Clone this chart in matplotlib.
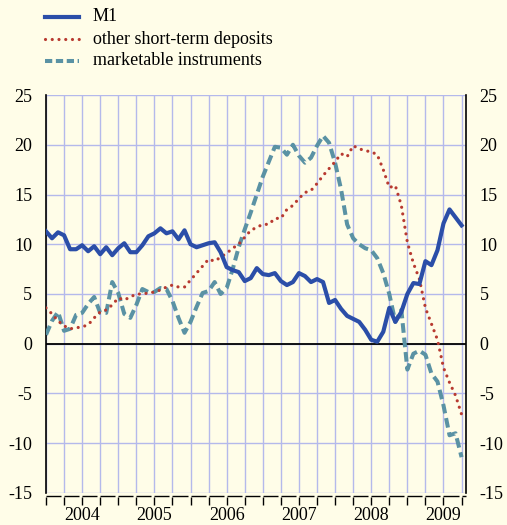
import numpy as np
import matplotlib
matplotlib.use("Agg")
import matplotlib.pyplot as plt
from matplotlib.lines import Line2D

plt.rcParams['font.family'] = ['Liberation Serif', 'DejaVu Serif']
plt.rcParams['axes.unicode_minus'] = False

# monthly data, Jan 2004 - Oct 2009 (annual % changes)
m1 = [11.3, 10.6, 11.2, 10.9, 9.5, 9.5, 9.9, 9.3, 9.8, 9.0,
      9.7, 8.9, 9.6, 10.1, 9.2, 9.2, 9.9, 10.8, 11.1, 11.6,
      11.1, 11.3, 10.5, 11.4, 10.0, 9.7, 9.9, 10.1, 10.2, 9.2,
      7.7, 7.4, 7.2, 6.3, 6.6, 7.6, 7.0, 6.9, 7.1, 6.3,
      5.9, 6.2, 7.1, 6.8, 6.2, 6.5, 6.2, 4.1, 4.4, 3.5,
      2.8, 2.5, 2.2, 1.4, 0.4, 0.2, 1.2, 3.6, 2.2, 3.2,
      5.0, 6.1, 6.0, 8.3, 7.9, 9.4, 12.1, 13.5, 12.7, 11.9]

other_st_dep = [3.6, 3.0, 2.3, 1.8, 1.5, 1.6, 1.7, 1.9, 2.6, 3.2,
                3.4, 3.9, 4.6, 4.4, 4.7, 5.0, 5.0, 5.1, 5.2, 5.4,
                5.7, 5.9, 5.7, 5.7, 6.4, 7.1, 7.8, 8.5, 8.3, 8.7,
                9.1, 9.6, 10.0, 10.7, 11.4, 11.7, 12.0, 12.0, 12.6, 12.6,
                13.5, 13.9, 14.6, 15.2, 15.4, 16.1, 16.9, 17.6, 18.3, 19.1,
                18.8, 19.9, 19.6, 19.4, 19.3, 19.0, 17.5, 15.7, 15.9, 13.9,
                10.2, 8.1, 6.5, 3.6, 2.0, 0.4, -2.4, -3.9, -5.2, -7.1]

marketable = [0.9, 2.3, 3.2, 1.3, 1.5, 2.9, 3.1, 4.0, 4.7, 3.1,
              3.1, 6.2, 5.1, 3.0, 2.6, 3.9, 5.5, 5.2, 5.2, 5.6,
              5.5, 4.3, 2.6, 1.1, 2.2, 3.7, 5.1, 5.3, 6.2, 5.0,
              5.6, 7.5, 9.7, 11.5, 13.2, 15.0, 16.8, 18.3, 19.8, 19.7,
              19.0, 20.0, 18.9, 18.2, 18.7, 19.9, 20.9, 20.2, 18.2, 15.5,
              12.0, 10.6, 10.0, 9.6, 9.4, 8.6, 7.1, 5.0, 2.2, 3.4,
              -2.6, -1.0, -0.7, -1.1, -3.0, -3.8, -6.2, -9.2, -9.0, -11.4]

years = ['2004', '2005', '2006', '2007', '2008', '2009']
labels = ['M1', 'other short-term deposits', 'marketable instruments']

bg = '#fffde8'
grid_col = '#b4b9eb'
c_m1 = '#2b4ea8'
c_dep = '#b83a30'
c_mkt = '#5a92a4'

months = np.arange(len(m1))
quarters = np.arange(0, 70, 3)

fig = plt.figure(figsize=(5.07, 5.25), dpi=100, facecolor=bg)
ax = fig.add_axes([0.0907, 0.061, 0.828, 0.758], facecolor=bg)

ax.plot(months, m1, color=c_m1, lw=3.0, solid_joinstyle='round', zorder=5)
ax.plot(months, other_st_dep, color=c_dep, lw=2.3, linestyle=(0, (0.01, 2.1)),
        dash_capstyle='round', zorder=4)
ax.plot(months, marketable, color=c_mkt, lw=2.9, linestyle=(0, (2.4, 1.2)),
        zorder=3)
ax.axhline(0, color='black', lw=1.3, zorder=2)

ax.set_xlim(0, 69.7)
ax.set_ylim(-15, 25)

ax.set_xticks(quarters)
ax.set_xticklabels([])
ax.tick_params(axis='x', which='major', direction='out', length=6, width=1, color='black')
for pos, yr in zip(np.arange(6, 70, 12), years):
    ax.text(pos, -0.036, yr, transform=ax.get_xaxis_transform(),
            ha='center', va='top', fontsize=13)

# broken baseline: short segment after each quarter tick
xt = ax.get_xaxis_transform()
for q in quarters:
    ax.plot([q, min(q + 2.5, 69.7)], [-0.0075, -0.0075], transform=xt,
            color='black', lw=1.0, clip_on=False, solid_capstyle='butt')

ax.set_yticks(np.arange(-15, 26, 5))
ax.tick_params(axis='y', length=0, pad=10, labelsize=13,
               labelleft=True, labelright=True)

ax.grid(True, which='major', color=grid_col, lw=1.0, zorder=0)
ax.set_axisbelow(True)

ax.spines['top'].set_visible(False)
ax.spines['bottom'].set_position(('outward', 3))
ax.spines['bottom'].set_visible(False)
ax.spines['left'].set_linewidth(1.2)
ax.spines['right'].set_linewidth(1.2)

# legend drawn at top-left
ys = [0.968, 0.925, 0.884]
styles = [dict(color=c_m1, lw=3.0),
          dict(color=c_dep, lw=2.3, linestyle=(0, (0.01, 2.1)), dash_capstyle='round'),
          dict(color=c_mkt, lw=2.9, linestyle=(0, (1.8, 0.9)))]
for y, lab, st in zip(ys, labels, styles):
    fig.add_artist(Line2D([0.089, 0.155], [y, y], transform=fig.transFigure, **st))
    fig.text(0.183, y, lab, fontsize=13, va='center', ha='left')

fig.savefig('out.png', dpi=100, facecolor=bg)
